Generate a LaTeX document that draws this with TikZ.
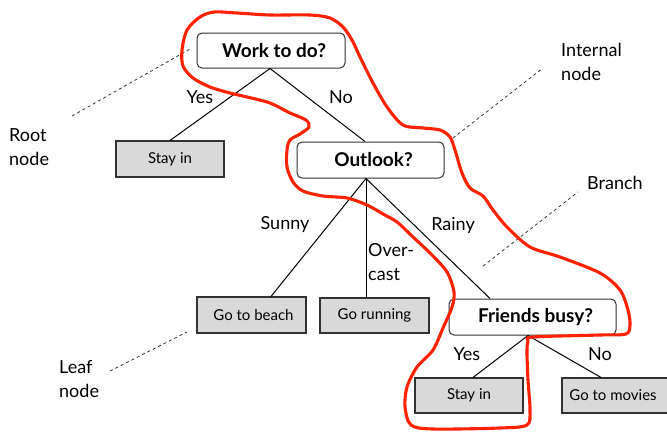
\documentclass[tikz,border=0pt]{standalone}
\usepackage{fontspec}
\setmainfont{Lato}
\usetikzlibrary{calc}
\definecolor{leafgray}{RGB}{217,217,217}
\definecolor{boxline}{RGB}{50,50,50}
\definecolor{handred}{RGB}{255,34,0}
\tikzset{
  decbox/.style={draw=boxline, line width=1pt, rounded corners=5pt, fill=white, inner sep=0pt,
    font=\fontsize{19}{22}\selectfont\bfseries},
  leafbox/.style={draw=boxline, line width=1.1pt, fill=leafgray, inner sep=0pt,
    font=\fontsize{15}{18}\selectfont},
  lbl/.style={inner sep=0pt, font=\fontsize{18}{24}\selectfont},
  note/.style={inner sep=0pt, align=left, anchor=north west, font=\fontsize{18}{24}\selectfont},
  branchline/.style={line width=1pt, black},
  pointer/.style={line width=0.8pt, black!80, dash pattern=on 3pt off 3pt},
  freehand/.style={handred, line width=3.1pt, line join=round}
}
\begin{document}
\begin{tikzpicture}[x=1pt,y=-1pt]
\useasboundingbox[fill=white] (0,0) rectangle (667,432);

% decision nodes
\node[decbox, minimum width=148pt, minimum height=35pt] (work) at (271,50.5) {\hspace*{6pt}Work to do?};
\node[decbox, minimum width=147pt, minimum height=36pt] (outlook) at (370.5,160) {\hspace*{6pt}Outlook?};
\node[decbox, minimum width=167pt, minimum height=36pt] (friends) at (532.5,317) {\hspace*{6pt}Friends busy?};

% leaf nodes
\node[leafbox, minimum width=108pt, minimum height=36pt] (stayL) at (170,159) {Stay in};
\node[leafbox, minimum width=109pt, minimum height=36pt] (beach) at (251.5,315) {\hspace*{4pt}Go to beach};
\node[leafbox, minimum width=109pt, minimum height=35pt] (running) at (374.5,315.5) {Go running};
\node[leafbox, minimum width=108pt, minimum height=35pt] (stayR) at (469,395.5) {Stay in};
\node[leafbox, minimum width=108pt, minimum height=35pt] (movies) at (616,395.5) {\hspace*{-6pt}Go to movies};

% branch points
\coordinate (wfan) at ($(work.south)+(-1,0)$);
\coordinate (ofan) at ($(outlook.south)+(-4.5,0)$);
\coordinate (ffan) at ($(friends.south)+(-4.5,0)$);

% branches
\draw[branchline] (wfan) -- (stayL.north);
\draw[branchline] (wfan) -- ($(outlook.north)+(-5.5,0)$);
\draw[branchline] (ofan) -- ($(beach.north)+(19.5,0)$);
\draw[branchline] (ofan) -- ($(running.north)+(-8.5,0)$);
\draw[branchline] (ofan) -- ($(friends.north)+(-42.5,0)$);
\draw[branchline] (ffan) -- ($(stayR.north)+(4,0)$);
\draw[branchline] (ffan) -- ($(movies.north)+(-15,0)$);

% branch labels
\node[lbl] (yes1) at (200,97) {Yes};
\node[lbl] (no1) at (341,97) {No};
\node[lbl] (sunny) at (285,225) {Sunny};
\node[note] (over) at (368,243) {Over-\\cast};
\node[lbl] (rainy) at (453,225) {Rainy};
\node[lbl] (yes2) at (467,354) {Yes};
\node[lbl] (no2) at (600,354) {No};

% annotations
\node[note] (root) at (9,128) {Root\\node};
\node[note] (internal) at (561,43) {Internal\\node};
\node[note] (branch) at (587,176) {Branch};
\node[note] (leaf) at (59,360) {Leaf\\node};

\coordinate (rootA) at (72,116);
\coordinate (rootB) at (190,49);
\coordinate (intA) at (453,138);
\coordinate (intB) at (543,68);
\coordinate (brA) at (483,266);
\coordinate (brB) at (578,192);
\coordinate (leafA) at (110,371);
\coordinate (leafB) at (187,332);
\draw[pointer] (rootA) -- (rootB);
\draw[pointer] (intA) -- (intB);
\draw[pointer] (brA) -- (brB);
\draw[pointer] (leafA) -- (leafB);

% hand-drawn loop
\draw[freehand] plot[smooth cycle, tension=0.5] coordinates {
 (200,17) (214,12) (237,13) (270,15) (310,15) (330,18) (343,27) (352,40) (360,57)
 (373,83) (387,107) (403,125) (423,128) (440,130) (450,137) (455,150) (462,173)
 (470,188) (483,196) (493,210) (507,227) (530,247) (560,257) (600,273) (620,290)
 (628,310) (630,325) (626,334) (600,335) (533,337) (528,341) (527,353) (528,380)
 (530,410) (527,425) (500,428) (433,429) (411,425) (405,407) (407,387) (417,367)
 (433,350) (443,328) (452,307) (454,292) (447,272) (431,254) (413,237) (397,222)
 (383,214) (367,205) (347,198) (323,196) (303,191) (293,182) (287,167) (287,150)
 (290,140) (300,134) (309,127) (306,120) (290,113) (270,103) (247,97) (230,93)
 (210,87) (193,78) (183,66) (182,50) (187,30)
};
\end{tikzpicture}
\end{document}
